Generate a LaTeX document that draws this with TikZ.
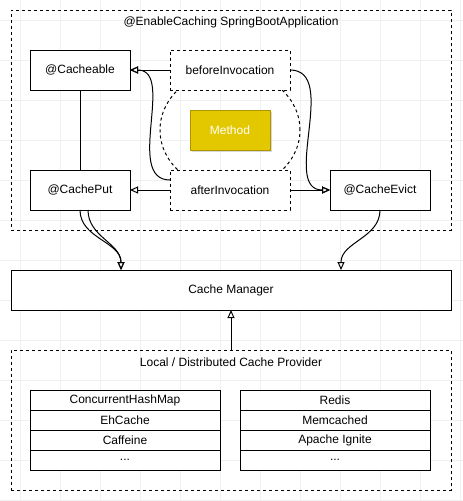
\documentclass[tikz,border=0pt]{standalone}
\usepackage{fontspec}
\setmainfont{Liberation Sans}
\usepackage{xcolor}
\usetikzlibrary{shapes,arrows.meta,positioning,shadows}

\definecolor{methodfill}{HTML}{E3C800}
\definecolor{methodline}{HTML}{B09500}

\begin{document}
\begin{tikzpicture}[x=1pt, y=1pt, line width=1pt,
    font=\fontsize{12pt}{14pt}\selectfont,
    box/.style={rectangle, draw, fill=white, minimum width=100pt, minimum height=40pt, inner sep=0pt, outer sep=0pt},
    hook/.style={box, dash pattern=on 3pt off 3pt, minimum width=120pt},
    group/.style={rectangle, draw, dash pattern=on 3pt off 3pt, minimum width=440pt, inner sep=0pt, outer sep=0pt},
    row/.style={rectangle, draw, fill=white, minimum width=190pt, minimum height=20pt, inner sep=0pt, outer sep=0pt},
    gridline/.style={black!6, line width=0.6pt},
    tri/.style={-{Triangle[open, length=8pt, width=7pt]}}]
    \useasboundingbox [fill=white] (0,0) rectangle (463,-501);

    % background grid
    \foreach \gx in {20,60,...,460} \draw [gridline] (\gx,0) -- (\gx,-501);
    \foreach \gy in {20,60,...,500} \draw [gridline] (0,-\gy) -- (463,-\gy);

    % application
    \node (app) [group, minimum height=220pt] at (231,-120) {};
    \node (apptitle) at (231,-22) {@EnableCaching SpringBootApplication};
    \node (scope) [ellipse, draw, dash pattern=on 3pt off 3pt, minimum width=140pt, minimum height=120pt] at (230,-130) {};
    \node (method) [rectangle, draw=methodline, fill=methodfill, text=white, minimum width=80pt, minimum height=40pt,
        drop shadow={shadow xshift=2pt, shadow yshift=-2pt, opacity=0.3}] at (230,-130) {Method};

    \node (cacheable) [box] at (80,-70) {@Cacheable};
    \node (cacheput) [box] at (80,-190) {@CachePut};
    \node (cacheevict) [box] at (380,-190) {@CacheEvict};
    \node (before) [hook] at (230,-70) {beforeInvocation};
    \node (after) [hook] at (230,-190) {afterInvocation};

    \node (manager) [box, minimum width=440pt] at (231,-290) {Cache Manager};

    % providers
    \node (provider) [group, minimum height=140pt] at (231,-420) {};
    \node (providertitle) at (231,-362) {Local / Distributed Cache Provider};

    \node (chm) [row] at (125,-400) {ConcurrentHashMap};
    \node (ehcache) [row, below=0pt of chm] {EhCache};
    \node (caffeine) [row, below=0pt of ehcache] {Caffeine};
    \node (localmore) [row, below=0pt of caffeine] {...};

    \node (redis) [row] at (335,-400) {Redis};
    \node (memcached) [row, below=0pt of redis] {Memcached};
    \node (ignite) [row, below=0pt of memcached] {Apache Ignite};
    \node (remotemore) [row, below=0pt of ignite] {...};

    \draw (cacheable) -- (cacheput);
    \draw [tri] (before) -- (cacheable);
    \draw [tri] (after) -- (cacheput);
    \draw [tri] (after) -- (cacheevict);
    \draw [tri] ([yshift=10pt]after.west) to[out=180, in=0] (cacheable.east);
    \draw [tri] (before.east) to[out=0, in=180] (cacheevict.west);
    \draw [tri] (cacheput.south) to[out=-90, in=90] ([xshift=-110pt]manager.north);
    \draw [tri] ([xshift=8pt]cacheput.south) to[out=-90, in=90] ([xshift=-110pt]manager.north);
    \draw [tri] (cacheevict.south) to[out=-90, in=90] ([xshift=110pt]manager.north);
    \draw [tri] (provider) -- (manager);
\end{tikzpicture}
\end{document}
